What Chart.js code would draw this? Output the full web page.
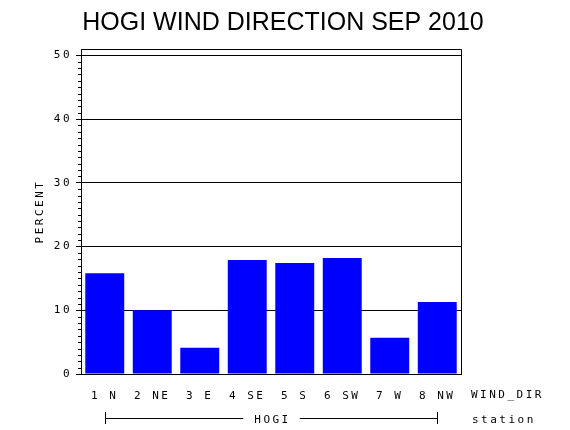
<!DOCTYPE html>
<html>
<head>
<meta charset="utf-8">
<script src="https://cdn.jsdelivr.net/npm/chart.js@4.4.1/dist/chart.umd.min.js"></script>
<style>
  html, body { margin: 0; background: #fff; }
  #wrap { width: 570px; height: 430px; }
</style>
</head>
<body>
<div id="wrap"><canvas id="windChart"></canvas></div>
<script>
/* ─── data ─────────────────────────────────────────── */
const directions = ['1 N', '2 NE', '3 E', '4 SE', '5 S', '6 SW', '7 W', '8 NW'];
const percents   = [15.8, 10.0, 4.1, 17.9, 17.4, 18.2, 5.7, 11.3];
const yTicks     = [0, 10, 20, 30, 40, 50];
const yMax       = 51;
const titleText  = 'HOGI WIND DIRECTION SEP 2010';
const stationName = 'HOGI';

const tickFont = '11px "DejaVu Sans Mono", monospace';

/* extra drawing: frame, minor ticks, titles, station bracket */
const extras = {
  id: 'extras',
  beforeDraw(chart) {
    chart.ctx.letterSpacing = '2.5px';   // spaced-out tick labels
  },
  afterDraw(chart) {
    const { ctx, chartArea: a, scales } = chart;
    const y = scales.y, x = scales.x;
    ctx.save();
    ctx.strokeStyle = '#000';
    ctx.lineWidth = 1;

    // top + right frame
    ctx.beginPath();
    ctx.moveTo(a.left, Math.round(a.top) + 0.5);
    ctx.lineTo(Math.round(a.right) + 0.5, Math.round(a.top) + 0.5);
    ctx.lineTo(Math.round(a.right) + 0.5, a.bottom);
    ctx.stroke();

    // minor ticks every 1%
    ctx.beginPath();
    for (let v = 1; v < yMax; v++) {
      if (v % 10 === 0) continue;
      const py = Math.round(y.getPixelForValue(v)) + 0.5;
      ctx.moveTo(a.left - 3, py);
      ctx.lineTo(a.left, py);
    }
    ctx.stroke();

    ctx.fillStyle = '#000';
    ctx.font = tickFont;
    ctx.letterSpacing = '2.5px';
    ctx.textBaseline = 'middle';

    // y axis title
    ctx.save();
    ctx.translate(40, (a.top + a.bottom) / 2);
    ctx.rotate(-Math.PI / 2);
    ctx.textAlign = 'center';
    ctx.fillText('PERCENT', 0, 0);
    ctx.restore();

    // x variable + group labels
    ctx.textAlign = 'left';
    ctx.fillText('WIND_DIR', a.right + 10, 395);
    ctx.fillText('station', a.right + 11, 420);

    const x0 = Math.round(x.getPixelForValue(0)) + 0.5;
    const x1 = Math.round(x.getPixelForValue(directions.length - 1)) + 0.5;
    const mid = (x0 + x1) / 2;
    ctx.textAlign = 'center';
    ctx.fillText(stationName, mid + 1, 420);
    const half = ctx.measureText(stationName).width / 2 + 10;
    ctx.beginPath();
    ctx.moveTo(x0, 412); ctx.lineTo(x0, 424);
    ctx.moveTo(x1, 412); ctx.lineTo(x1, 424);
    ctx.moveTo(x0, 418.5); ctx.lineTo(mid - half, 418.5);
    ctx.moveTo(mid + half, 418.5); ctx.lineTo(x1, 418.5);
    ctx.stroke();

    // main title
    ctx.letterSpacing = '0px';
    ctx.font = '25px "Liberation Sans", Arial, sans-serif';
    ctx.textBaseline = 'alphabetic';
    ctx.textAlign = 'center';
    ctx.fillText(titleText, 283, 30);
    ctx.restore();
  }
};

new Chart(document.getElementById('windChart'), {
  type: 'bar',
  data: {
    labels: directions,
    datasets: [{
      data: percents,
      backgroundColor: '#0000ff',
      borderWidth: 0,
      barPercentage: 0.82,
      categoryPercentage: 1
    }]
  },
  options: {
    responsive: true,
    maintainAspectRatio: false,
    animation: false,
    layout: { padding: { top: 49, right: 109, bottom: 0, left: 0 } },
    plugins: {
      legend: { display: false },
      tooltip: { enabled: false }
    },
    scales: {
      x: {
        afterFit: s => { s.height = 56; },
        grid: { display: false },
        border: { display: true, color: '#000' },
        ticks: { color: '#000', font: { family: '"DejaVu Sans Mono", monospace', size: 11 }, padding: 8, maxRotation: 0 }
      },
      y: {
        z: 1,
        min: 0,
        max: yMax,
        afterFit: s => { s.width = 81; },
        afterBuildTicks: s => { s.ticks = yTicks.map(v => ({ value: v })); },
        grid: { color: '#000', tickLength: 5, tickColor: '#000' },
        border: { display: true, color: '#000' },
        ticks: { color: '#000', font: { family: '"DejaVu Sans Mono", monospace', size: 11 }, padding: 4 }
      }
    }
  },
  plugins: [extras]
});
</script>
</body>
</html>
